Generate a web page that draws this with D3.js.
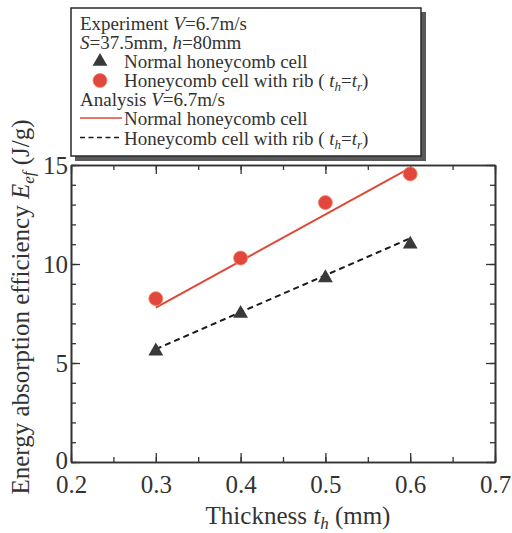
<!DOCTYPE html>
<html>
<head>
<meta charset="utf-8">
<script src="https://cdn.jsdelivr.net/npm/d3@7"></script>
<style>
  html, body { margin: 0; padding: 0; background: #fff; }
  svg { display: block; }
  text { font-family: "Liberation Serif", "Times New Roman", serif; fill: #333; }
</style>
</head>
<body>
<svg id="chart" width="512" height="533"></svg>
<script>
// Measured energy absorption efficiency (J/g) against wall thickness (mm)
const thickness = [0.3, 0.4, 0.5, 0.6];
const normalCell = [5.6, 7.5, 9.3, 11.0];
const ribCell = [8.25, 10.3, 13.1, 14.55];

// Analysis results (straight lines between the end thicknesses)
const analysisThickness = [0.3, 0.6];
const analysisNormal = [7.8, 14.85];
const analysisRib = [5.7, 11.3];

const xTicks = [0.2, 0.3, 0.4, 0.5, 0.6, 0.7];
const yTicks = [0, 5, 10, 15];

const svg = d3.select("#chart");
const plotLeft = 71, plotRight = 495, plotTop = 165, plotBottom = 462;
const axisColor = "#333";

const x = d3.scaleLinear().domain([0.2, 0.7]).range([plotLeft, plotRight]);
const y = d3.scaleLinear().domain([0, 15]).range([plotBottom, plotTop]);

// ---- frame with inward ticks on all four sides ----
const minorX = d3.range(0.2, 0.7001, 0.05).map(v => +v.toFixed(2));
const minorY = d3.range(0, 15.001, 1);

function tickAxis(axisFn, scale, pos, majors, minors, drawLabels) {
  const gMinor = svg.append("g").attr("transform", pos)
    .call(axisFn(scale).tickValues(minors).tickSizeInner(-5).tickSizeOuter(0).tickFormat(""));
  const gMajor = svg.append("g").attr("transform", pos)
    .call(axisFn(scale).tickValues(majors).tickSizeInner(-9).tickSizeOuter(0)
      .tickFormat(drawLabels ? d3.format("") : ""));
  [gMinor, gMajor].forEach(g => {
    g.select(".domain").attr("stroke", axisColor).attr("stroke-width", 1.6);
    g.selectAll(".tick line").attr("stroke", axisColor).attr("stroke-width", 1.3);
  });
  return gMajor;
}

const gx = tickAxis(d3.axisBottom, x, `translate(0,${plotBottom})`, xTicks, minorX, true);
gx.selectAll(".tick text")
  .text(d => d3.format(".1f")(d))
  .attr("font-size", 25).attr("font-family", "Liberation Serif, serif")
  .attr("fill", "#3a3a3a").attr("y", 13.5);
tickAxis(d3.axisTop, x, `translate(0,${plotTop})`, xTicks, minorX, false);

const gy = tickAxis(d3.axisLeft, y, `translate(${plotLeft},0)`, yTicks, minorY, true);
gy.selectAll(".tick text")
  .attr("font-size", 25).attr("font-family", "Liberation Serif, serif")
  .attr("fill", "#3a3a3a").attr("x", -3);
// lift the "0" slightly so it clears the first x label
gy.selectAll(".tick text").filter(d => d === 0).attr("dy", "0.26em");
tickAxis(d3.axisRight, y, `translate(${plotRight},0)`, yTicks, minorY, false);

// ---- analysis lines ----
const line = d3.line().x(d => x(d[0])).y(d => y(d[1]));
svg.append("path")
  .datum(d3.zip(analysisThickness, analysisNormal))
  .attr("d", line).attr("fill", "none")
  .attr("stroke", "#dc4a36").attr("stroke-width", 2);
svg.append("path")
  .datum(d3.zip(analysisThickness, analysisRib))
  .attr("d", line).attr("fill", "none")
  .attr("stroke", "#1c1c1c").attr("stroke-width", 2)
  .attr("stroke-dasharray", "6,4");

// ---- experimental points ----
const tri = d3.symbol().type(d3.symbolTriangle).size(95);
svg.append("g").selectAll("path")
  .data(d3.zip(thickness, normalCell))
  .join("path")
  .attr("d", tri)
  .attr("transform", d => `translate(${x(d[0])},${y(d[1])})`)
  .attr("fill", "#393939");

svg.append("g").selectAll("circle")
  .data(d3.zip(thickness, ribCell))
  .join("circle")
  .attr("cx", d => x(d[0])).attr("cy", d => y(d[1]))
  .attr("r", 7)
  .attr("fill", "#e2463f")
  .attr("stroke", "#ec8a5a").attr("stroke-width", 0.8);

// ---- axis titles ----
const xTitle = svg.append("text")
  .attr("x", 298).attr("y", 524)
  .attr("text-anchor", "middle").attr("font-size", 25);
xTitle.append("tspan").text("Thickness ");
xTitle.append("tspan").attr("font-style", "italic").text("t");
xTitle.append("tspan").attr("font-style", "italic").attr("font-size", 17).attr("dy", 5).text("h");
xTitle.append("tspan").attr("dy", -5).text(" (mm)");

const yTitle = svg.append("text")
  .attr("transform", "translate(29,307) rotate(-90)")
  .attr("text-anchor", "middle").attr("font-size", 25);
yTitle.append("tspan").text("Energy absorption efficiency ");
yTitle.append("tspan").attr("font-style", "italic").text("E");
yTitle.append("tspan").attr("font-style", "italic").attr("font-size", 17).attr("dy", 5).text("ef");
yTitle.append("tspan").attr("dy", -5).text(" (J/g)");

// ---- legend box with drop shadow ----
const lg = svg.append("g");
lg.append("rect").attr("x", 75).attr("y", 12).attr("width", 351).attr("height", 149)
  .attr("fill", "#5a5a5a");
lg.append("rect").attr("x", 71).attr("y", 8).attr("width", 350).attr("height", 148)
  .attr("fill", "#fff").attr("stroke", "#2a2a2a").attr("stroke-width", 1.5);

const legendFont = 19;
const rowY = [29.5, 48.5, 67.5, 86.5, 106, 125, 144.5];

function legendText(xPos, yPos, parts) {
  const t = lg.append("text").attr("x", xPos).attr("y", yPos).attr("font-size", legendFont);
  parts.forEach(p => {
    const s = t.append("tspan").text(p.s);
    if (p.i) s.attr("font-style", "italic");
    if (p.sub) s.attr("font-size", 13).attr("dy", 4);
    if (p.up) s.attr("dy", -4);
  });
}

const ribLabel = [
  { s: "Honeycomb cell with rib ( " }, { s: "t", i: true }, { s: "h", i: true, sub: true },
  { s: "=", up: true }, { s: "t", i: true }, { s: "r", i: true, sub: true }, { s: ")", up: true }
];

legendText(80, rowY[0], [{ s: "Experiment " }, { s: "V", i: true }, { s: "=6.7m/s" }]);
legendText(80, rowY[1], [{ s: "S", i: true }, { s: "=37.5mm, " }, { s: "h", i: true }, { s: "=80mm" }]);
legendText(124, rowY[2], [{ s: "Normal honeycomb cell" }]);
legendText(124, rowY[3], ribLabel);
legendText(80, rowY[4], [{ s: "Analysis " }, { s: "V", i: true }, { s: "=6.7m/s" }]);
legendText(124, rowY[5], [{ s: "Normal honeycomb cell" }]);
legendText(124, rowY[6], ribLabel);

lg.append("path").attr("d", tri).attr("transform", `translate(100,${rowY[2] - 6})`)
  .attr("fill", "#393939");
lg.append("circle").attr("cx", 100).attr("cy", rowY[3] - 6).attr("r", 7)
  .attr("fill", "#e2463f").attr("stroke", "#ec8a5a").attr("stroke-width", 0.8);
lg.append("line").attr("x1", 80).attr("x2", 122).attr("y1", rowY[5] - 7).attr("y2", rowY[5] - 7)
  .attr("stroke", "#dc4a36").attr("stroke-width", 1.5);
lg.append("line").attr("x1", 80).attr("x2", 122).attr("y1", rowY[6] - 7).attr("y2", rowY[6] - 7)
  .attr("stroke", "#1c1c1c").attr("stroke-width", 1.5).attr("stroke-dasharray", "5,3.5");
</script>
</body>
</html>
